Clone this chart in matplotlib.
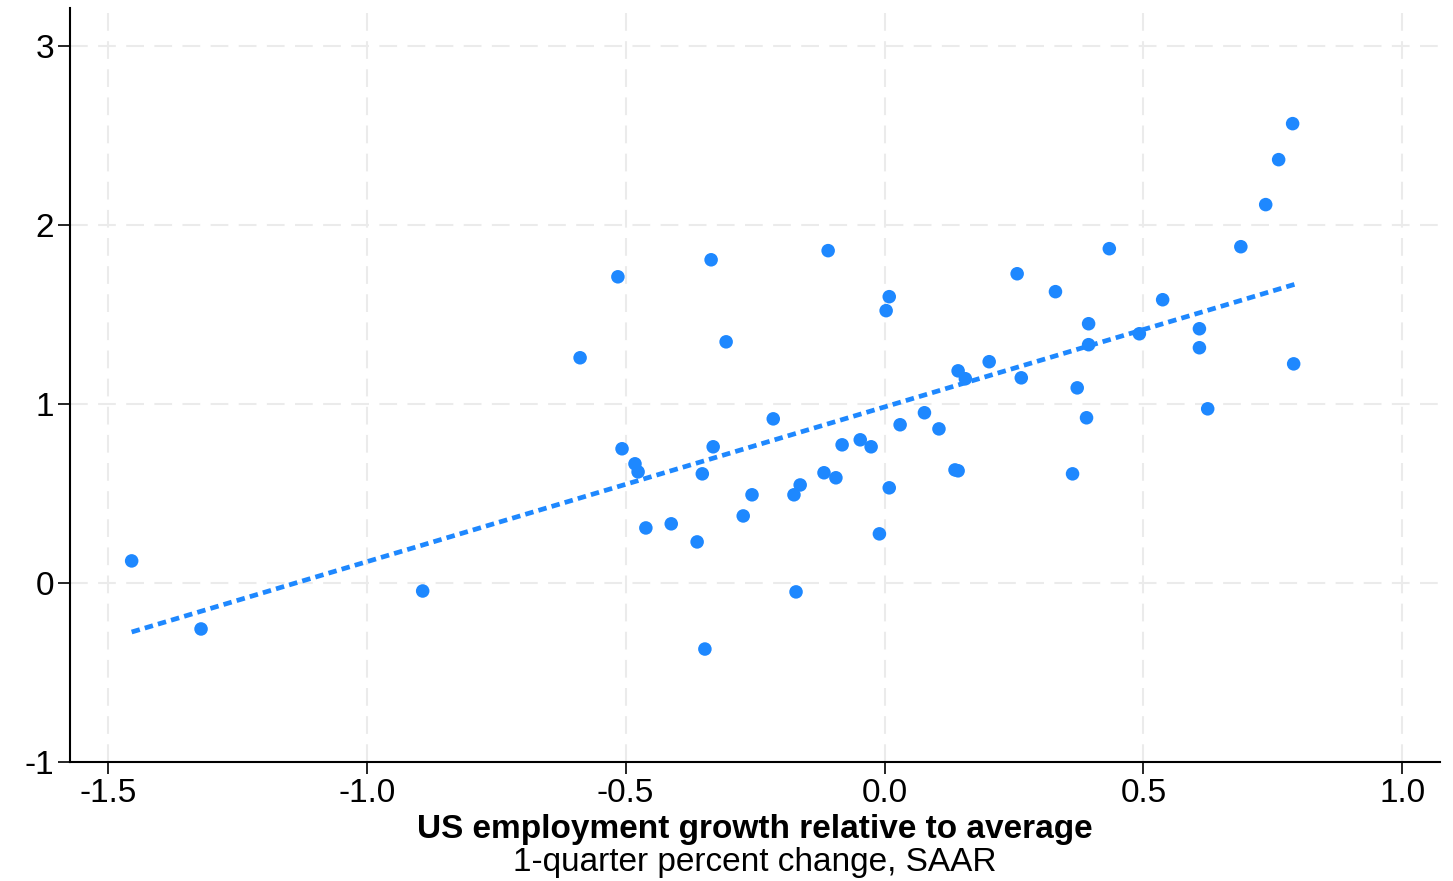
import matplotlib
matplotlib.use("Agg")
import matplotlib.pyplot as plt

plt.rcParams['font.family'] = ['Liberation Sans', 'DejaVu Sans']
plt.rcParams['axes.unicode_minus'] = False

# quarterly observations: US employment growth vs. the other series
emp_growth = [-1.454, -1.320, -0.892, -0.588, -0.515, -0.507, -0.482, -0.476, -0.461, -0.412,
              -0.362, -0.352, -0.347, -0.335, -0.331, -0.306, -0.273, -0.256, -0.215, -0.175,
              -0.171, -0.163, -0.117, -0.109, -0.094, -0.082, -0.047, -0.026, -0.010, 0.003,
              0.009, 0.009, 0.030, 0.077, 0.105, 0.136, 0.142, 0.142, 0.156, 0.202,
              0.256, 0.264, 0.330, 0.363, 0.372, 0.390, 0.394, 0.394, 0.434, 0.492,
              0.537, 0.608, 0.608, 0.624, 0.688, 0.736, 0.761, 0.788, 0.790]
other_growth = [0.123, -0.257, -0.045, 1.257, 1.709, 0.749, 0.665, 0.620, 0.307, 0.330,
                0.229, 0.609, -0.369, 1.804, 0.760, 1.346, 0.374, 0.492, 0.916, 0.492,
                -0.050, 0.547, 0.615, 1.855, 0.587, 0.771, 0.799, 0.760, 0.274, 1.520,
                1.598, 0.531, 0.883, 0.950, 0.860, 0.631, 0.626, 1.184, 1.140, 1.235,
                1.726, 1.145, 1.626, 0.609, 1.089, 0.922, 1.447, 1.330, 1.866, 1.391,
                1.581, 1.419, 1.313, 0.972, 1.877, 2.112, 2.363, 2.564, 1.223]

# fitted line endpoints
fit_x = [-1.454, 0.792]
fit_y = [-0.274, 1.667]

x_ticks = [-1.5, -1.0, -0.5, 0.0, 0.5, 1.0]
y_ticks = [-1, 0, 1, 2, 3]

blue = '#1e88ff'

fig = plt.figure(figsize=(14.53, 8.81), dpi=100)
ax = fig.add_axes([0.0482, 0.135, 0.943, 0.856])

ax.plot(fit_x, fit_y, color=blue, lw=3.4, linestyle=(0, (1.8, 1.1)), zorder=2,
        solid_capstyle='butt', dash_capstyle='butt')
ax.scatter(emp_growth, other_growth, s=95, color=blue, edgecolors='none', zorder=3)

ax.set_xlim(-1.573, 1.073)
ax.set_ylim(-1, 3.21)
ax.set_xticks(x_ticks)
ax.set_xticklabels([f'{v:.1f}' for v in x_ticks])
ax.set_yticks(y_ticks)

ax.grid(True, color='#ebebeb', lw=1.5, linestyle=(0, (8.5, 5)), zorder=0)
ax.set_axisbelow(True)

for side in ['top', 'right']:
    ax.spines[side].set_visible(False)
for side in ['left', 'bottom']:
    ax.spines[side].set_linewidth(1.5)

ax.tick_params(axis='both', direction='out', length=8.5, width=1.2, labelsize=24, pad=3)

xc = 0.0482 + 0.943 / 2
fig.text(xc, 0.058, 'US employment growth relative to average', ha='center', va='center',
         fontsize=24, fontweight='bold')
fig.text(xc, 0.021, '1-quarter percent change, SAAR', ha='center', va='center', fontsize=24)

fig.savefig('out.png', dpi=100)
